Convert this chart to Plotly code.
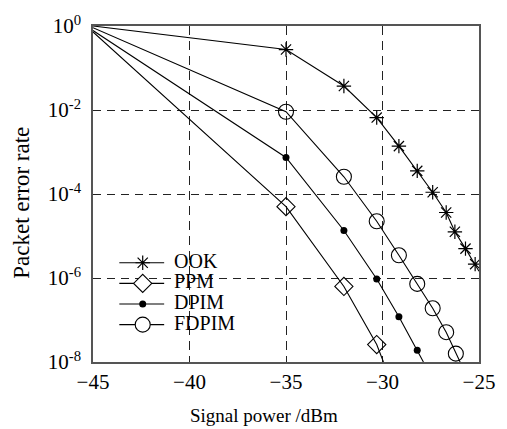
import plotly.graph_objects as go

# ---- data ----
signal_ook = [-45, -35, -32, -30.3, -29.15, -28.2, -27.4, -26.7, -26.25, -25.7, -25.2, -25.0]
per_ook = [1.0, 0.275, 0.0372, 0.0066, 1.38e-3, 3.55e-4, 1.1e-4, 3.63e-5, 1.26e-5, 5.0e-6, 2.14e-6, 1.45e-6]

signal_ppm = [-45, -35, -32, -30.3, -29.95]
per_ppm = [0.72, 5.0e-5, 6.3e-7, 2.6e-8, 1.0e-8]

signal_dpim = [-45, -35, -32, -30.3, -29.15, -28.2, -27.88]
per_dpim = [0.78, 7.4e-4, 1.35e-5, 9.5e-7, 1.2e-7, 1.9e-8, 1.0e-8]

signal_fdpim = [-45, -35, -32, -30.3, -29.15, -28.2, -27.4, -26.7, -26.2, -25.98]
per_fdpim = [0.91, 9.1e-3, 2.57e-4, 2.24e-5, 3.47e-6, 7.24e-7, 1.9e-7, 5.13e-8, 1.58e-8, 1.0e-8]

series_names = ["OOK", "PPM", "DPIM", "FDPIM"]
x_ticks = [-45, -40, -35, -30, -25]
y_ticks = [1e-8, 1e-6, 1e-4, 1e-2, 1]
y_ticktext = ["10<sup>-8</sup>", "10<sup>-6</sup>", "10<sup>-4</sup>", "10<sup>-2</sup>", "10<sup>0</sup>"]

# ---- styles ----
FONT = "Liberation Serif"
styles = {
    "OOK": dict(symbol="asterisk-open", size=12, color="black", line=dict(width=1.2, color="black")),
    "PPM": dict(symbol="diamond-open", size=14, color="black", line=dict(width=1.1, color="black")),
    "DPIM": dict(symbol="circle", size=7, color="black", line=dict(width=0, color="black")),
    "FDPIM": dict(symbol="circle-open", size=15, color="black", line=dict(width=1.1, color="black")),
}
data = {
    "OOK": (signal_ook, per_ook),
    "PPM": (signal_ppm, per_ppm),
    "DPIM": (signal_dpim, per_dpim),
    "FDPIM": (signal_fdpim, per_fdpim),
}

fig = go.Figure()
for name in series_names:
    xs, ys = data[name]
    fig.add_trace(go.Scatter(x=xs, y=ys, mode="lines", line=dict(color="black", width=1.1),
                             showlegend=False, hoverinfo="skip"))
    fig.add_trace(go.Scatter(x=xs[1:-1], y=ys[1:-1], mode="markers", marker=styles[name],
                             showlegend=False, name=name))

# ---- hand-made legend on a pixel-like overlay axis ----
PW, PH = 396, 342          # plot area size (px)
L, T = 93, 20              # plot area offset
leg_x0, leg_xm, leg_x1, leg_tx = 120 - L, 144 - L, 166 - L, 174 - L
leg_y = [261 - T, 282 - T, 303 - T, 324 - T]
for name, ly in zip(series_names, leg_y):
    fig.add_trace(go.Scatter(x=[leg_x0, leg_x1], y=[ly, ly], xaxis="x2", yaxis="y2", mode="lines",
                             line=dict(color="black", width=1.1), showlegend=False, hoverinfo="skip"))
    mk = dict(styles[name])
    if name in ("PPM", "FDPIM"):
        mk = dict(mk, symbol=mk["symbol"].replace("-open", ""), color="white")
    fig.add_trace(go.Scatter(x=[leg_xm], y=[ly], xaxis="x2", yaxis="y2", mode="markers",
                             marker=mk, showlegend=False, hoverinfo="skip", cliponaxis=False))
    fig.add_annotation(x=leg_tx, y=ly - 2, xref="x2", yref="y2", text=name, showarrow=False,
                       xanchor="left", yanchor="middle", font=dict(family=FONT, size=20, color="black"))

# axis titles (paper coordinates)
fig.add_annotation(x=(268 - L) / PW, y=(T + PH - 416) / PH, xref="paper", yref="paper",
                   text="Signal power /dBm", showarrow=False,
                   xanchor="center", yanchor="middle", font=dict(family=FONT, size=19, color="black"))
fig.add_annotation(x=(20 - L) / PW, y=(T + PH - 200) / PH, xref="paper", yref="paper",
                   text="Packet error rate", showarrow=False,
                   textangle=-90, xanchor="center", yanchor="middle",
                   font=dict(family=FONT, size=23, color="black"))

grid_common = dict(showgrid=True, gridcolor="#222", gridwidth=1, zeroline=False,
                   showline=True, linecolor="#555", linewidth=1.5, mirror=True, ticks="",
                   tickfont=dict(family=FONT, size=21, color="black"))

fig.update_layout(
    width=507, height=429,
    margin=dict(l=L, r=507 - L - PW, t=T, b=429 - T - PH),
    paper_bgcolor="white", plot_bgcolor="white",
    showlegend=False,
    xaxis=dict(range=[-45, -25], tickvals=x_ticks, griddash="9px,6px", ticklabelstandoff=0, **grid_common),
    yaxis=dict(type="log", range=[-8, 0], tickvals=y_ticks, ticktext=y_ticktext, griddash="8px,6px",
               ticklabelstandoff=6, **grid_common),
    xaxis2=dict(overlaying="x", range=[0, PW], visible=False, anchor="y2"),
    yaxis2=dict(overlaying="y", range=[PH, 0], visible=False, anchor="x2"),
)

fig.write_html("out.html")
